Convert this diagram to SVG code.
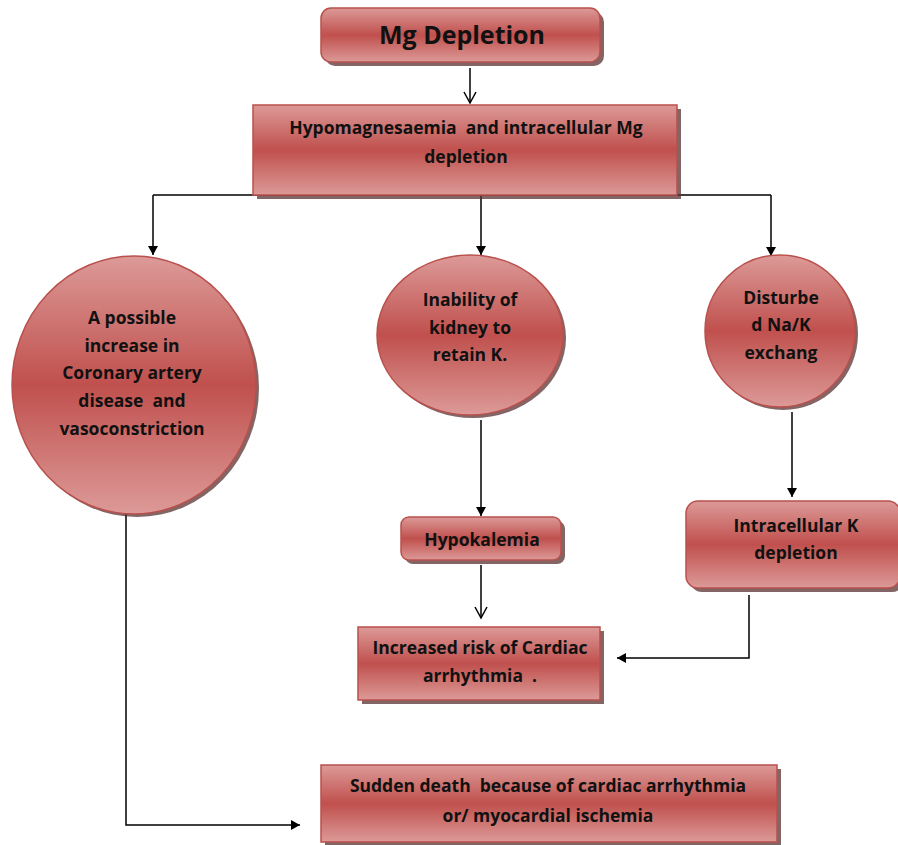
<svg xmlns="http://www.w3.org/2000/svg" width="898" height="845" viewBox="0 0 898 845">
<style>
.box{fill:url(#g);stroke:#b9504c;stroke-width:1.5}
.sh{fill:#5a3231;opacity:0.75}
.t{font-family:"Open Sans","Liberation Sans",sans-serif;font-weight:bold;font-size:17.5px;fill:#111;text-anchor:middle;white-space:pre}
.c{stroke:#000;stroke-width:1.5;fill:none}
</style>
<defs>
<linearGradient id="g" x1="0" y1="0" x2="0" y2="1">
<stop offset="0" stop-color="#dc9a98"/>
<stop offset="0.5" stop-color="#c0504d"/>
<stop offset="1" stop-color="#dc9a98"/>
</linearGradient>
<marker id="open" markerWidth="14" markerHeight="14" refX="12" refY="7" orient="auto" markerUnits="userSpaceOnUse" viewBox="0 0 14 14">
<path d="M1,1 L12,7 L1,13" fill="none" stroke="#000" stroke-width="1.5"/>
</marker>
<marker id="fill" markerWidth="12" markerHeight="12" refX="10" refY="6" orient="auto" markerUnits="userSpaceOnUse" viewBox="0 0 12 12">
<path d="M1,1 L10,6 L1,11 Z" fill="#000"/>
</marker>
</defs>
<rect width="898" height="845" fill="#fff"/>

<g id="connectors">
<line class="c" x1="470" y1="68" x2="470" y2="103" marker-end="url(#open)"/>
<line class="c" x1="153" y1="195" x2="771" y2="195"/>
<line class="c" x1="153" y1="195" x2="153" y2="255" marker-end="url(#fill)"/>
<line class="c" x1="481" y1="195" x2="481" y2="255" marker-end="url(#fill)"/>
<line class="c" x1="771" y1="195" x2="771" y2="256" marker-end="url(#fill)"/>
<line class="c" x1="481" y1="420" x2="481" y2="516" marker-end="url(#fill)"/>
<line class="c" x1="481" y1="565" x2="481" y2="618" marker-end="url(#open)"/>
<line class="c" x1="792" y1="412" x2="792" y2="497" marker-end="url(#fill)"/>
<polyline class="c" points="749,595 749,658 617,658" marker-end="url(#fill)"/>
<polyline class="c" points="126,513 126,825 300,825" marker-end="url(#fill)"/>
</g>

<g id="mg">
<rect class="sh" x="325" y="12" width="279" height="54" rx="10"/>
<rect class="box" x="321" y="8" width="279" height="54" rx="10"/>
<text class="t" x="462" y="44" style="font-size:25px">Mg Depletion</text>
</g>

<g id="hypomag">
<rect class="sh" x="257" y="109" width="424" height="90"/>
<rect class="box" x="253" y="105" width="424" height="90"/>
<text class="t" x="466" y="134">Hypomagnesaemia  and intracellular Mg</text>
<text class="t" x="466" y="163">depletion</text>
</g>

<g id="coronary">
<ellipse class="sh" cx="137" cy="388" rx="122" ry="129"/>
<ellipse class="box" cx="134" cy="385" rx="122" ry="129"/>
<text class="t" x="132" y="324">A possible</text>
<text class="t" x="132" y="352">increase in</text>
<text class="t" x="132" y="379">Coronary artery</text>
<text class="t" x="132" y="407">disease  and</text>
<text class="t" x="132" y="435">vasoconstriction</text>
</g>

<g id="kidney">
<ellipse class="sh" cx="473" cy="338" rx="93" ry="80"/>
<ellipse class="box" cx="470" cy="335" rx="93" ry="80"/>
<text class="t" x="470" y="306">Inability of</text>
<text class="t" x="470" y="334">kidney to</text>
<text class="t" x="470" y="361">retain K.</text>
</g>

<g id="nak">
<ellipse class="sh" cx="783" cy="334" rx="75" ry="76"/>
<ellipse class="box" cx="780" cy="331" rx="75" ry="76"/>
<text class="t" x="781" y="304">Disturbe</text>
<text class="t" x="781" y="331">d Na/K</text>
<text class="t" x="781" y="359">exchang</text>
</g>

<g id="hypokalemia">
<rect class="sh" x="405" y="521" width="160" height="43" rx="8"/>
<rect class="box" x="401" y="517" width="160" height="43" rx="8"/>
<text class="t" x="482" y="546">Hypokalemia</text>
</g>

<g id="intracellular">
<rect class="sh" x="690" y="505" width="214" height="87" rx="12"/>
<rect class="box" x="686" y="501" width="214" height="87" rx="12"/>
<text class="t" x="796" y="532">Intracellular K</text>
<text class="t" x="796" y="559">depletion</text>
</g>

<g id="risk">
<rect class="sh" x="362" y="631" width="242" height="73"/>
<rect class="box" x="358" y="627" width="242" height="73"/>
<text class="t" x="480" y="654">Increased risk of Cardiac</text>
<text class="t" x="480" y="682">arrhythmia  .</text>
</g>

<g id="death">
<rect class="sh" x="325" y="769" width="456" height="77"/>
<rect class="box" x="321" y="765" width="456" height="77"/>
<text class="t" x="548" y="792">Sudden death  because of cardiac arrhythmia</text>
<text class="t" x="548" y="822">or/ myocardial ischemia</text>
</g>
</svg>
